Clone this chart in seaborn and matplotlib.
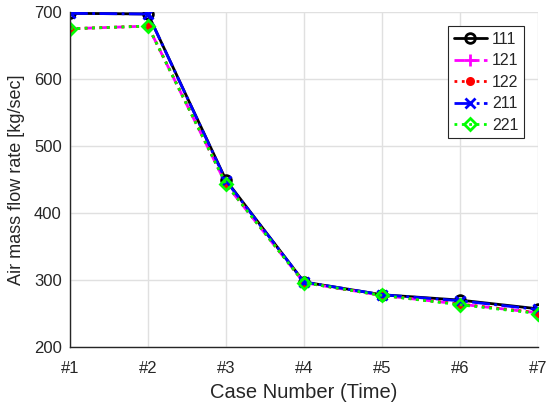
import matplotlib
matplotlib.use("Agg")
import matplotlib.pyplot as plt
import seaborn as sns
import pandas as pd

cases = ["#1", "#2", "#3", "#4", "#5", "#6", "#7"]
s111 = [698, 697, 449, 297, 278, 270, 257]
s121 = [675, 679, 443, 296, 277, 264, 251]
s122 = [675, 679, 444, 296, 277, 264, 251]
s211 = [698, 697, 448, 297, 278, 269, 256]
s221 = [675, 679, 443, 296, 277, 263, 250]

series = {"111": s111, "121": s121, "122": s122, "211": s211, "221": s221}
styles = {
    "111": dict(color="black", linestyle="-", marker="o", mfc="none", mec="black", ms=7, mew=2),
    "121": dict(color="magenta", linestyle="--", marker="+", mec="magenta", ms=8, mew=2),
    "122": dict(color="red", linestyle=":", marker="o", mfc="red", mec="red", ms=5, mew=1.5),
    "211": dict(color="blue", linestyle="-.", marker="x", mec="blue", ms=7, mew=2),
    "221": dict(color="#00ff00", linestyle=":", marker="D", mfc="none", mec="#00ff00", ms=6, mew=2),
}

sns.set_style("white")
plt.rcParams["font.family"] = ["Liberation Sans", "DejaVu Sans"]

fig = plt.figure(figsize=(5.47, 4.05), dpi=100)
ax = fig.add_axes([0.128, 0.1432, 0.8555, 0.8272])

for name, vals in series.items():
    df = pd.DataFrame({"case": cases, "value": vals})
    st = styles[name]
    sns.lineplot(data=df, x="case", y="value", ax=ax, color=st["color"],
                 linestyle=st["linestyle"], marker=st["marker"],
                 markerfacecolor=st.get("mfc", st["color"]),
                 markeredgecolor=st["mec"], markersize=st["ms"],
                 markeredgewidth=st["mew"], linewidth=2, label=name, sort=False)

ax.set_xlim(0, 6)
ax.set_ylim(200, 700)
ax.set_yticks([200, 300, 400, 500, 600, 700])
ax.grid(True, color="#e0e0e0", linewidth=1)
ax.set_axisbelow(True)
for sp in ["top", "right"]:
    ax.spines[sp].set_visible(False)
for sp in ["left", "bottom"]:
    ax.spines[sp].set_color("#262626")
    ax.spines[sp].set_linewidth(1)
ax.tick_params(axis="both", labelsize=12, colors="#262626", length=3, direction="in")
ax.tick_params(axis="x", pad=10)
ax.tick_params(axis="y", pad=6)
ax.set_xlabel("Case Number (Time)", fontsize=14.5, color="#262626", labelpad=5)
ax.set_ylabel("Air mass flow rate [kg/sec]", fontsize=13, color="#262626", labelpad=6)

leg = ax.legend(loc="upper right", bbox_to_anchor=(0.970, 0.958), fontsize=11.5,
                frameon=True, fancybox=False, edgecolor="#262626", framealpha=1,
                handlelength=2.1, handletextpad=0.3, borderpad=0.35, labelspacing=0.41,
                borderaxespad=0)
leg.get_frame().set_linewidth(0.8)

fig.savefig("out.png", dpi=100)
